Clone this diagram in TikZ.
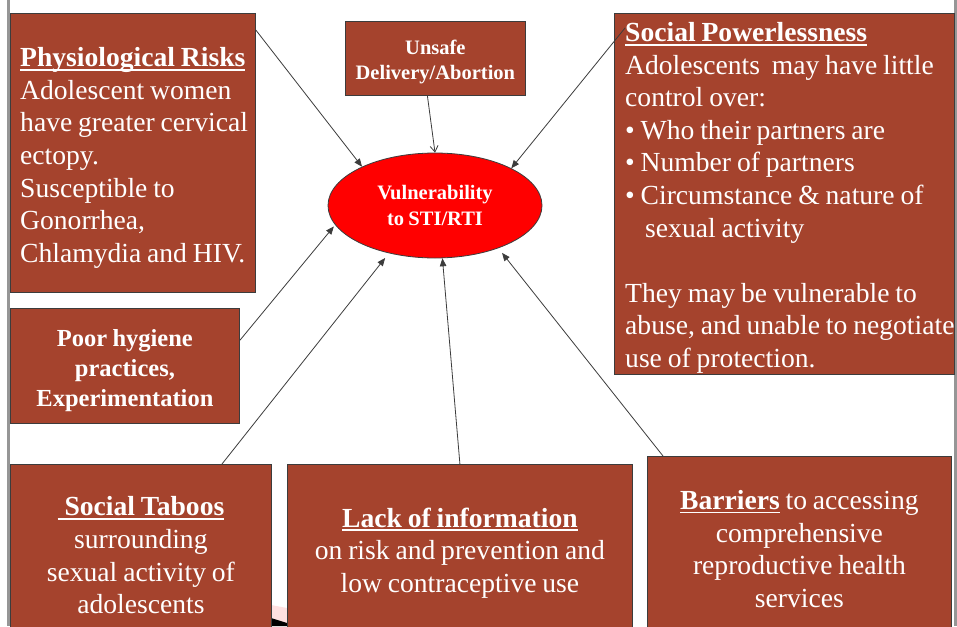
\documentclass[tikz,border=0pt]{standalone}
\usepackage{fontspec}
\setmainfont[WordSpace=0.85]{Liberation Serif}
\usetikzlibrary{arrows.meta,calc,shapes.geometric}
\definecolor{boxfill}{RGB}{165,67,45}
\definecolor{framegrey}{RGB}{150,150,150}
\definecolor{linegrey}{RGB}{60,60,60}
\newsavebox{\myulbox}
\newcommand\myul[1]{\sbox\myulbox{#1}\rlap{\rule[-4pt]{\wd\myulbox}{1.8pt}}\usebox\myulbox}
\begin{document}
\begin{tikzpicture}[x=1pt,y=-1pt,
  box/.style={draw=linegrey, line width=0.8pt, fill=boxfill, text=white, inner sep=0pt},
  boxtext/.style={text=white, inner sep=0pt},
  big/.style={font=\fontsize{27.6}{32.6}\selectfont},
  midbold/.style={font=\fontsize{24.5}{30}\selectfont\bfseries},
  smallbold/.style={font=\fontsize{20.5}{25}\selectfont\bfseries},
  link/.style={draw=linegrey, line width=0.8pt, -{Triangle[length=8pt,width=6.5pt]}},
  openlink/.style={draw=linegrey, line width=0.8pt, -{Straight Barb[length=6pt,width=8pt]}}]
\useasboundingbox (0,0) rectangle (957,626);
\fill[white] (0,0) rectangle (957,626);
\begin{scope}
\clip (0,0) rectangle (957,626);
% frame lines
\draw[framegrey, line width=2.5pt] (8.5,0) -- (8.5,626);
\draw[framegrey, line width=2.5pt] (955.5,0) -- (955.5,626);
% small artifact between bottom boxes
\fill[red!12] (271,605) -- (287,608) -- (287,626) -- (271,626) -- cycle;
\fill[black] (271,618) -- (287,623) -- (287,626) -- (271,626) -- cycle;

% boxes
\node[box, anchor=north west, minimum width=245, minimum height=279] (phys) at (10,13) {};
\node[boxtext, big, anchor=west, align=left] (physT) at ($(phys.west)+(10,5)$)
  {\myul{\textbf{Physiological Risks}}\\ Adolescent women\\ have greater cervical\\ ectopy.\\ Susceptible to\\ Gonorrhea,\\ Chlamydia and HIV.};

\node[box, anchor=north west, minimum width=180, minimum height=74] (unsafe) at (345,21) {};
\node[boxtext, smallbold, align=center] (unsafeT) at ($(unsafe.center)+(0,3.5)$)
  {Unsafe\\ Delivery/Abortion};

\node[box, anchor=north west, minimum width=340, minimum height=361] (sp) at (614,13) {};
\node[boxtext, big, anchor=west, align=left] (spT) at ($(sp.west)+(11,4)$)
  {\myul{\textbf{Social Powerlessness}}\\ Adolescents\ \ may have little\\ control over:\\ • Who their partners are\\ • Number of partners\\ • Circumstance \& nature of\\ \hspace*{20pt}sexual activity\\ \mbox{}\\ They may be vulnerable to\\ abuse, and unable to negotiate\\ use of protection.};

\node[box, anchor=north west, minimum width=229, minimum height=115] (hyg) at (10,308) {};
\node[boxtext, midbold, align=center] (hygT) at ($(hyg.center)+(0,4.5)$)
  {Poor hygiene\\ practices,\\ Experimentation};

\node[box, big, anchor=north west, minimum width=261, minimum height=182,
      align=center] (taboo) at (10,464)
  {\myul{\hspace*{7pt}\textbf{Social Taboos}}\\ surrounding\\ sexual activity of\\ adolescents};

\node[box, big, anchor=north west, minimum width=345, minimum height=177,
      align=center] (lack) at (287,464)
  {\myul{\textbf{Lack of information}}\\ on risk and prevention and\\ low contraceptive use};

\node[box, big, anchor=north west, minimum width=304, minimum height=185,
      align=center] (barr) at (647,456)
  {\myul{\textbf{Barriers}} to accessing\\ comprehensive\\ reproductive health\\ services};

% central ellipse
\node[ellipse, draw=linegrey, line width=0.8pt, fill=red, text=white,
      minimum width=214, minimum height=105, inner sep=0pt, align=center,
      font=\fontsize{20.5}{26}\selectfont\bfseries] (vul) at (435,205.5)
  {Vulnerability\\ to STI/RTI};

% connectors
\draw[link] ($(phys.north east)+(0,17)$) -- (vul.152.8);
\draw[openlink] ($(unsafe.south)+(-8,0)$) -- (vul.north);
\draw[link] ($(sp.north west)+(11,15)$) -- (vul.26.6);
\draw[link, shorten >=2pt] ($(hyg.east)+(0,-25.5)$) -- (vul.191.8);
\draw[link, shorten >=6pt] ($(taboo.north west)+(212,0)$) -- (vul.226.5);
\draw[link] (lack.north) -- (vul.278.7);
\draw[link, shorten >=6pt] ($(barr.north west)+(16,0)$) -- (vul.326.5);
\end{scope}
\end{tikzpicture}
\end{document}
